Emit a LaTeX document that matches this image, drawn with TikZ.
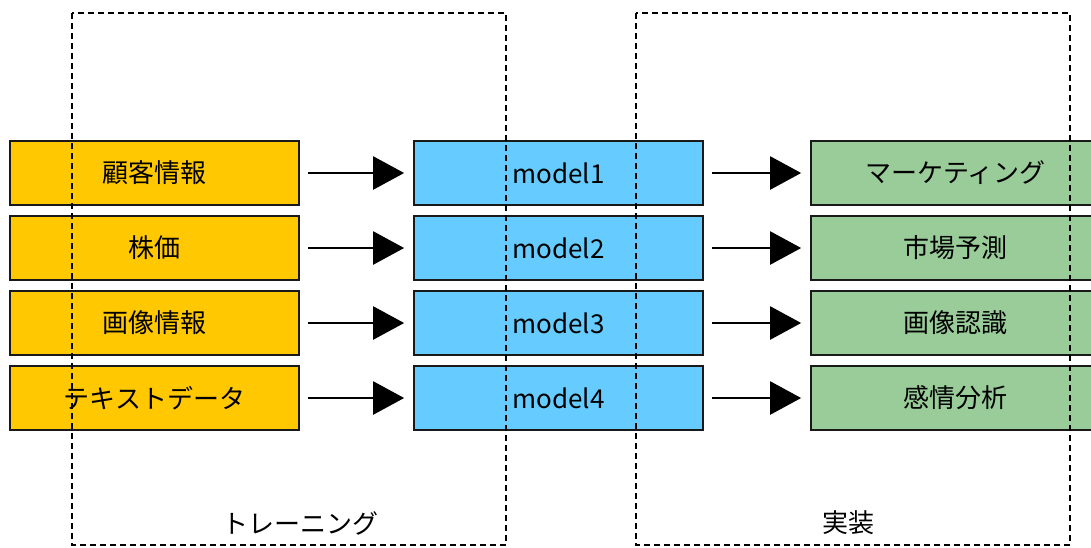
\documentclass[tikz,border=0pt]{standalone}
\usepackage{fontspec}
\setmainfont{Noto Sans CJK JP}
\usetikzlibrary{arrows.meta}
\definecolor{datacolor}{RGB}{255,200,0}
\definecolor{modelcolor}{RGB}{102,204,255}
\definecolor{appcolor}{RGB}{153,204,153}

\begin{document}
\begin{tikzpicture}[
    x=0.5pt, y=-0.5pt,
    blk/.style={rectangle, minimum width=144.5pt, minimum height=32pt, inner sep=0pt,
                draw=black!90, line width=0.85pt, font=\fontsize{13}{15}\selectfont},
    data/.style={blk, fill=datacolor},
    mdl/.style={blk, fill=modelcolor},
    app/.style={blk, fill=appcolor},
    flow/.style={-{Triangle[length=15.5pt,width=16.5pt]}, line width=1.2pt,
                 shorten <=4pt, shorten >=4.5pt},
    phase/.style={dash pattern=on 3pt off 2pt, line width=0.7pt, draw=black},
    key/.style={font=\fontsize{13}{15}\selectfont, text=black}
]
\useasboundingbox (0,0) rectangle (1091,547);
\clip (0,0) rectangle (1091,547);

\node[data] (d1) at (154.5,173) {顧客情報};
\node[data] (d2) at (154.5,248) {株価};
\node[data] (d3) at (154.5,323) {画像情報};
\node[data] (d4) at (154.5,398) {テキストデータ};

\node[mdl] (m1) at (558.5,173) {model1};
\node[mdl] (m2) at (558.5,248) {model2};
\node[mdl] (m3) at (558.5,323) {model3};
\node[mdl] (m4) at (558.5,398) {model4};

\node[app] (a1) at (955.5,173) {マーケティング};
\node[app] (a2) at (955.5,248) {市場予測};
\node[app] (a3) at (955.5,323) {画像認識};
\node[app] (a4) at (955.5,398) {感情分析};

\draw[flow] (d1) -- (m1);
\draw[flow] (d2) -- (m2);
\draw[flow] (d3) -- (m3);
\draw[flow] (d4) -- (m4);
\draw[flow] (m1) -- (a1);
\draw[flow] (m2) -- (a2);
\draw[flow] (m3) -- (a3);
\draw[flow] (m4) -- (a4);

\draw[phase] (72,13) rectangle (506,545);
\draw[phase] (636,13) rectangle (1070,545);
\node[key] (train) at (300,523) {トレーニング};
\node[key] (deploy) at (848,523) {実装};
\end{tikzpicture}
\end{document}
